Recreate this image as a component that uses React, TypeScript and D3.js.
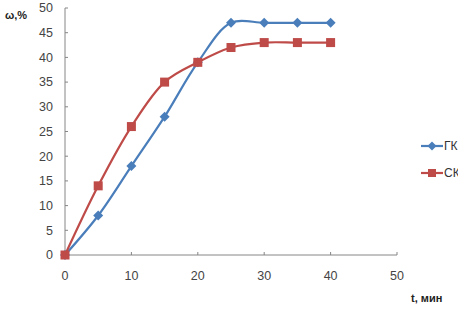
import React from "react";
import * as d3 from "d3";

// time, min
const times = [0, 5, 10, 15, 20, 25, 30, 35, 40];
// ГК series
const gkValues = [0, 8, 18, 28, 39, 47, 47, 47, 47];
// СК series
const skValues = [0, 14, 26, 35, 39, 42, 43, 43, 43];
const seriesNames = ["ГК", "СК"];
const xTicks = [0, 10, 20, 30, 40, 50];
const yTicks = [0, 5, 10, 15, 20, 25, 30, 35, 40, 45, 50];

const W = 472;
const H = 310;
const blue = "#4A7EBB";
const red = "#BE4B48";
const axisColor = "#868686";
const font = "'Liberation Sans Narrow', 'Liberation Sans', Arial, sans-serif";

export default function App() {
  const x = d3.scaleLinear().domain([0, 50]).range([65, 397]);
  const y = d3.scaleLinear().domain([0, 50]).range([255, 8]);

  const line = d3
    .line<number>()
    .x((_, i) => x(times[i]))
    .y((d) => y(d))
    .curve(d3.curveCatmullRom.alpha(0.5));

  const diamond = (cx: number, cy: number, r: number) =>
    `M${cx},${cy - r}L${cx + r},${cy}L${cx},${cy + r}L${cx - r},${cy}Z`;

  return (
    <svg
      width={W}
      height={H}
      style={{ position: "absolute", left: 0, top: 0, background: "#fff" }}
      fontFamily={font}
    >
      <defs>
        <clipPath id="legendClip">
          <rect x={400} y={120} width={58} height={70} />
        </clipPath>
      </defs>
      {/* axes */}
      <line x1={x(0)} x2={x(0)} y1={y(0)} y2={y(50)} stroke={axisColor} />
      <line x1={x(0)} x2={x(50)} y1={y(0)} y2={y(0)} stroke={axisColor} />
      {yTicks.map((t) => (
        <g key={"y" + t}>
          <line x1={x(0)} x2={x(0) + 3} y1={y(t)} y2={y(t)} stroke={axisColor} />
          <text x={53} y={y(t)} dy="0.35em" textAnchor="end" fontSize={12.5} fill="#444">
            {t}
          </text>
        </g>
      ))}
      {xTicks.map((t) => (
        <g key={"x" + t}>
          <line x1={x(t)} x2={x(t)} y1={y(0)} y2={y(0) - 3} stroke={axisColor} />
          <text x={x(t)} y={276} dy="0.35em" textAnchor="middle" fontSize={12.5} fill="#444">
            {t}
          </text>
        </g>
      ))}
      <text x={5} y={19} fontSize={11} fontWeight="bold" fill="#222">ω,%</text>
      <text x={411} y={302} fontSize={11} fontWeight="bold" fill="#222">t, мин</text>

      {/* series */}
      <path d={line(gkValues) ?? ""} fill="none" stroke={blue} strokeWidth={2.2} />
      <path d={line(skValues) ?? ""} fill="none" stroke={red} strokeWidth={2.2} />
      {gkValues.map((v, i) => (
        <path key={"g" + i} d={diamond(x(times[i]), y(v), 5)} fill={blue} />
      ))}
      {skValues.map((v, i) => (
        <rect
          key={"s" + i}
          x={x(times[i]) - 4.5}
          y={y(v) - 4.5}
          width={9}
          height={9}
          fill={red}
        />
      ))}

      {/* legend */}
      <g clipPath="url(#legendClip)">
        <line x1={421} x2={443} y1={146} y2={146} stroke={blue} strokeWidth={2.2} />
        <path d={diamond(432, 146, 4.5)} fill={blue} />
        <text x={444} y={146} dy="0.35em" fontSize={12} fill="#333">{seriesNames[0]}</text>
        <line x1={421} x2={443} y1={173} y2={173} stroke={red} strokeWidth={2.2} />
        <rect x={428} y={169} width={8} height={8} fill={red} />
        <text x={444} y={173} dy="0.35em" fontSize={12} fill="#333">{seriesNames[1]}</text>
      </g>
    </svg>
  );
}
